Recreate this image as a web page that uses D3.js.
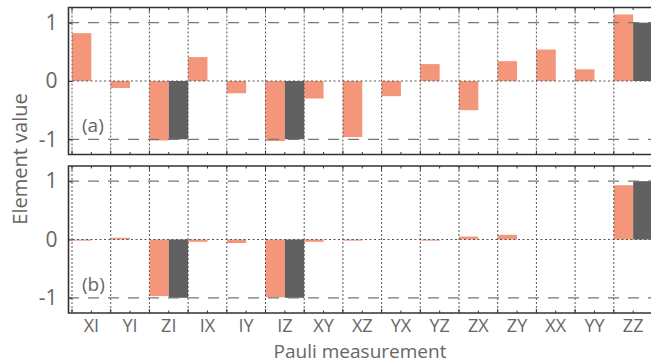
<!DOCTYPE html>
<html>
<head>
<meta charset="utf-8">
<script src="https://cdn.jsdelivr.net/npm/d3@7"></script>
<style>
  body { margin: 0; background: #fff; }
  svg { display: block; font-family: "Open Sans", sans-serif; }
</style>
</head>
<body>
<div id="chart"></div>
<script>
// Pauli measurement categories
var categories = ["XI", "YI", "ZI", "IX", "IY", "IZ", "XY", "XZ", "YX", "YZ", "ZX", "ZY", "XX", "YY", "ZZ"];
// panel (a): measured and ideal
var measuredA = [0.82, -0.12, -1.02, 0.41, -0.21, -1.03, -0.30, -0.96, -0.26, 0.29, -0.50, 0.34, 0.54, 0.20, 1.14];
var idealA = [0, 0, -1, 0, 0, -1, 0, 0, 0, 0, 0, 0, 0, 0, 1];
// panel (b): measured and ideal
var measuredB = [-0.02, 0.03, -0.97, -0.04, -0.06, -0.99, -0.04, -0.02, 0, -0.02, 0.05, 0.08, 0, 0, 0.93];
var idealB = [0, 0, -1, 0, 0, -1, 0, 0, 0, 0, 0, 0, 0, 0, 1];
var yTicks = [-1, 0, 1];
var yTickLabels = ["-1", "0", "1"];

var W = 651, H = 362;
var ORANGE = "#f4967a", DARK = "#616161", TEXT = "#666";

var svg = d3.select("#chart").append("svg")
    .attr("width", W)
    .attr("height", H);

var x = d3.scaleBand()
    .domain(categories)
    .range([72, 652.5])
    .paddingInner(0)
    .paddingOuter(0);

var panels = [
    {top: 7.5, bottom: 154.5, measured: measuredA, ideal: idealA, label: "(a)"},
    {top: 166, bottom: 313, measured: measuredB, ideal: idealB, label: "(b)"}
];

panels.forEach(function(p) {
    var y = d3.scaleLinear().domain([-1.26, 1.26]).range([p.bottom, p.top]);
    var g = svg.append("g");
    var half = x.bandwidth() / 2;

    // bars
    categories.forEach(function(c, i) {
        var v = p.measured[i];
        g.append("rect")
            .attr("x", x(c))
            .attr("y", y(Math.max(0, v)))
            .attr("width", half)
            .attr("height", Math.abs(y(v) - y(0)))
            .attr("fill", ORANGE);
        var w = p.ideal[i];
        if (w !== 0) {
            g.append("rect")
                .attr("x", x(c) + half)
                .attr("y", y(Math.max(0, w)))
                .attr("width", half)
                .attr("height", Math.abs(y(w) - y(0)))
                .attr("fill", DARK);
        }
    });

    // vertical grid lines at category edges
    categories.forEach(function(c) {
        g.append("line")
            .attr("x1", x(c)).attr("x2", x(c))
            .attr("y1", p.top).attr("y2", p.bottom)
            .attr("stroke", "#555")
            .attr("stroke-width", 1)
            .attr("stroke-dasharray", "2,2");
    });

    // horizontal grid lines
    yTicks.forEach(function(t) {
        g.append("line")
            .attr("x1", 68).attr("x2", W)
            .attr("y1", y(t)).attr("y2", y(t))
            .attr("stroke", t === 0 ? "#555" : "#777")
            .attr("stroke-width", t === 0 ? 1 : 1.2)
            .attr("stroke-dasharray", t === 0 ? "2,2.5" : "11,9");
    });

    // frame
    g.append("path")
        .attr("d", "M" + W + "," + p.top + "H68.5V" + p.bottom + "H" + W)
        .attr("fill", "none")
        .attr("stroke", "#333")
        .attr("stroke-width", 1.6);

    // y axis ticks and labels
    var yAxis = d3.axisLeft(y).tickValues(yTicks).tickSize(-4).tickPadding(11)
        .tickFormat(function(d, i) { return yTickLabels[i]; });
    var ya = g.append("g").attr("transform", "translate(68.5,0)").call(yAxis);
    ya.select(".domain").remove();
    ya.selectAll(".tick line").attr("stroke", "#333");
    ya.selectAll(".tick text")
        .attr("fill", TEXT)
        .attr("font-size", 21)
        .attr("font-family", "Open Sans, sans-serif");

    // x ticks, inward on top and bottom, major at edges, minor at centres
    categories.forEach(function(c) {
        [[x(c), 4], [x(c) + half, 2.5]].forEach(function(t) {
            g.append("line")
                .attr("x1", t[0]).attr("x2", t[0])
                .attr("y1", p.bottom).attr("y2", p.bottom - t[1])
                .attr("stroke", "#333");
            g.append("line")
                .attr("x1", t[0]).attr("x2", t[0])
                .attr("y1", p.top).attr("y2", p.top + t[1])
                .attr("stroke", "#333");
        });
    });

    g.append("text")
        .attr("x", 82)
        .attr("y", y(-0.88))
        .attr("fill", TEXT)
        .attr("font-size", 19)
        .text(p.label);
});

// category labels
svg.append("g").selectAll("text")
    .data(categories)
    .enter().append("text")
    .attr("x", function(d) { return x(d) + x.bandwidth() / 2; })
    .attr("y", 332)
    .attr("text-anchor", "middle")
    .attr("fill", TEXT)
    .attr("font-size", 18)
    .text(function(d) { return d; });

svg.append("text")
    .attr("x", 360)
    .attr("y", 357.5)
    .attr("text-anchor", "middle")
    .attr("fill", TEXT)
    .attr("font-size", 19)
    .text("Pauli measurement");

svg.append("text")
    .attr("transform", "translate(27,159) rotate(-90)")
    .attr("text-anchor", "middle")
    .attr("fill", TEXT)
    .attr("font-size", 20)
    .text("Element value");
</script>
</body>
</html>
